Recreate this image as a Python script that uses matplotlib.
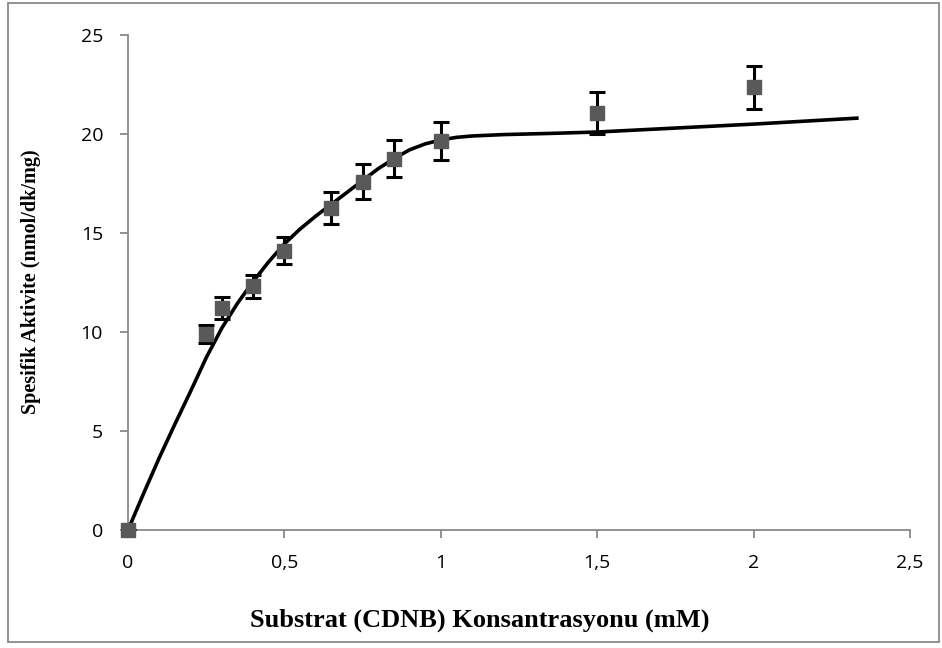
import matplotlib.pyplot as plt
from matplotlib.patches import Rectangle

# measured points (substrate mM vs specific activity)
conc = [0, 0.25, 0.3, 0.4, 0.5, 0.65, 0.75, 0.85, 1.0, 1.5, 2.0]
activity = [0, 9.9, 11.2, 12.3, 14.1, 16.25, 17.6, 18.75, 19.65, 21.05, 22.35]
err = [0, 0.47, 0.55, 0.6, 0.68, 0.8, 0.9, 0.93, 0.95, 1.05, 1.1]

# fitted curve
fit_x = [0, 0.05, 0.1, 0.15, 0.2, 0.25, 0.3, 0.35, 0.4, 0.45, 0.5, 0.55, 0.6,
         0.65, 0.7, 0.75, 0.8, 0.85, 0.9, 0.95, 1.0, 1.05, 1.1, 1.2, 1.35,
         1.5, 1.75, 2.0, 2.33]
fit_y = [0, 1.85, 3.65, 5.35, 7.0, 8.7, 10.2, 11.45, 12.55, 13.55, 14.45,
         15.2, 15.85, 16.45, 17.05, 17.65, 18.25, 18.75, 19.2, 19.5, 19.7,
         19.83, 19.9, 19.97, 20.03, 20.1, 20.3, 20.5, 20.8]

xticks = [0, 0.5, 1, 1.5, 2, 2.5]
xlabels = ['0', '0,5', '1', '1,5', '2', '2,5']
yticks = [0, 5, 10, 15, 20, 25]

fig = plt.figure(figsize=(9.42, 6.48), dpi=100)
ax = fig.add_axes([128 / 942, 1 - 530 / 648, 782 / 942, 495 / 648])

ax.plot(fit_x, fit_y, color='black', lw=2.6, zorder=2)
ax.errorbar(conc, activity, yerr=err, fmt='none', ecolor='black',
            elinewidth=2.2, capsize=5.5, capthick=2.2, zorder=3)
ax.plot(conc, activity, 's', color='#595959', ms=9.5, mec='#595959', zorder=4,
        clip_on=False)

ax.set_xlim(0, 2.5)
ax.set_ylim(0, 25)
ax.set_xticks(xticks)
ax.set_xticklabels(xlabels)
ax.set_yticks(yticks)

for s in ['top', 'right']:
    ax.spines[s].set_visible(False)
for s in ['left', 'bottom']:
    ax.spines[s].set_color('#898989')
    ax.spines[s].set_linewidth(1.3)
ax.tick_params(colors='#898989', width=1.3, length=6, labelcolor='black',
               labelsize=14)
ax.tick_params(axis='x', pad=11)
ax.tick_params(axis='y', pad=12)
for lab in ax.get_xticklabels() + ax.get_yticklabels():
    lab.set_family('Open Sans')

fig.text(480 / 942, 1 - 620 / 648, 'Substrat (CDNB) Konsantrasyonu (mM)',
         ha='center', va='center', fontsize=19, fontweight='bold',
         family='Liberation Serif')
fig.text(31 / 942, 1 - 282 / 648, 'Spesifik Aktivite (nmol/dk/mg)',
         ha='center', va='center', rotation=90, fontsize=14.5,
         fontweight='bold', family='Liberation Serif')

fig.patches.append(Rectangle((8 / 942, 1 - 642 / 648), 931 / 942, 639 / 648,
                             transform=fig.transFigure, fill=False,
                             edgecolor='#898989', lw=1.3))

fig.savefig('out.png', dpi=100)
